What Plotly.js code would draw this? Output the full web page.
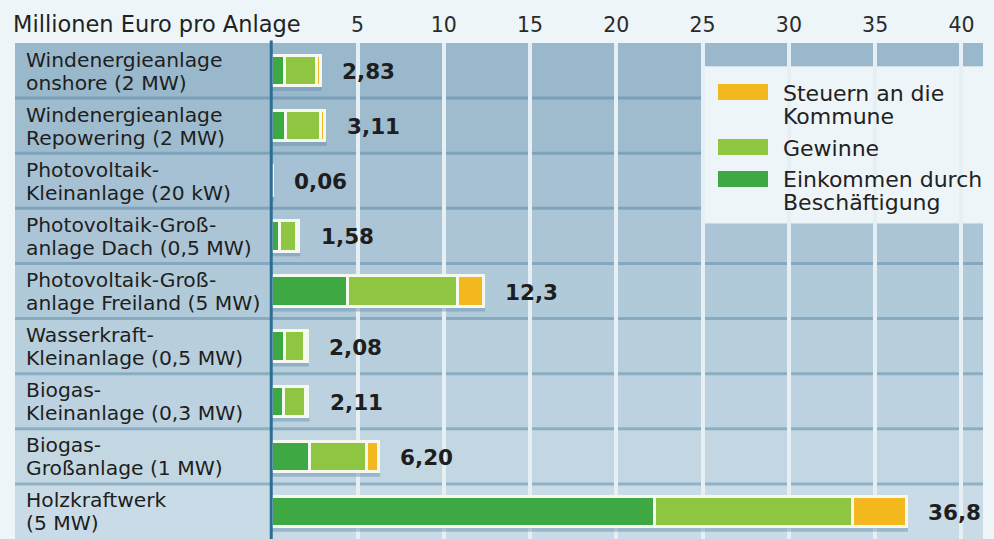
<!DOCTYPE html>
<html>
<head>
<meta charset="utf-8">
<script src="https://cdn.plot.ly/plotly-3.0.1.min.js"></script>
<style>
html,body{margin:0;padding:0;background:#eef5f8;}
#chart{width:994px;height:539px;}
</style>
</head>
<body>
<div id="chart"></div>
<script>
// ---- data ----
var categories = [
  "Windenergieanlage<br>onshore (2 MW)",
  "Windenergieanlage<br>Repowering (2 MW)",
  "Photovoltaik-<br>Kleinanlage (20 kW)",
  "Photovoltaik-Groß-<br>anlage Dach (0,5 MW)",
  "Photovoltaik-Groß-<br>anlage Freiland (5 MW)",
  "Wasserkraft-<br>Kleinanlage (0,5 MW)",
  "Biogas-<br>Kleinanlage (0,3 MW)",
  "Biogas-<br>Großanlage (1 MW)",
  "Holzkraftwerk<br>(5 MW)"
];
var einkommen = [0.75, 0.85, 0.02, 0.45, 4.4, 0.75, 0.70, 2.2, 22.2];
var gewinne   = [1.85, 2.00, 0.03, 1.00, 6.4, 1.20, 1.30, 3.3, 11.5];
var steuern   = [0.23, 0.26, 0.01, 0.13, 1.5, 0.13, 0.11, 0.7, 3.1];
var totals      = [2.83, 3.11, 0.06, 1.58, 12.3, 2.08, 2.11, 6.20, 36.8];
var totalLabels = ["2,83", "3,11", "0,06", "1,58", "12,3", "2,08", "2,11", "6,20", "36,8"];
var tickValues = [5, 10, 15, 20, 25, 30, 35, 40];
var axisTitle = "Millionen Euro pro Anlage";
var legendLabels = {
  steuern: ["Steuern an die", "Kommune"],
  gewinne: ["Gewinne"],
  einkommen: ["Einkommen durch", "Beschäftigung"]
};

// ---- style ----
var C_DARK = "#3ea843", C_LIGHT = "#8ec641", C_YELLOW = "#f3b81e";
var BG = "#eef5f8";
var FONT = "DejaVu Sans, Noto Sans, sans-serif";
var n = categories.length;
var rows = categories.map(function(_, i){ return i; });

function mix(a, b, t){
  function h(c){ return [parseInt(c.substr(1,2),16), parseInt(c.substr(3,2),16), parseInt(c.substr(5,2),16)]; }
  var A = h(a), B = h(b);
  return "rgb(" + A.map(function(v, k){ return Math.round(v + (B[k]-v)*t); }).join(",") + ")";
}

var barStyle = function(color){
  return {color: color, line: {color: "#f4f8ee", width: 3}};
};
var traces = [
  {type:"bar", orientation:"h", name:"Einkommen durch Beschäftigung", x: einkommen, y: rows, width: 0.55, marker: barStyle(C_DARK), hoverinfo:"x"},
  {type:"bar", orientation:"h", name:"Gewinne", x: gewinne, y: rows, width: 0.55, marker: barStyle(C_LIGHT), hoverinfo:"x"},
  {type:"bar", orientation:"h", name:"Steuern an die Kommune", x: steuern, y: rows, width: 0.55, marker: barStyle(C_YELLOW), hoverinfo:"x"}
];

var shapes = [];
var annotations = [];
// row backgrounds
rows.forEach(function(i){
  shapes.push({type:"rect", layer:"below", xref:"paper", x0:0, x1:1, yref:"y", y0:i-0.5, y1:i+0.5,
    fillcolor: mix("#99b8cc", "#c9dbe6", i/(n-1)), line:{width:0}});
});
// separators
rows.slice(0, n-1).forEach(function(i){
  shapes.push({type:"line", layer:"between", xref:"paper", x0:0, x1:1, yref:"y", y0:i+0.5, y1:i+0.5,
    line:{color: mix("#7aa0b9", "#93b4c8", i/(n-1)), width:3}});
});
// bar shadows
rows.forEach(function(i){
  shapes.push({type:"rect", layer:"between", xref:"x", x0:0, x1:totals[i]+0.1, yref:"y", y0:i+0.28, y1:i+0.37,
    fillcolor:"rgba(100,140,175,0.45)", line:{width:0}});
});
// legend box
shapes.push({type:"rect", layer:"between", xref:"x", x0:25.1, x1:45, yref:"paper", y0:0.637, y1:0.952,
  fillcolor: BG, line:{color:"#e2edf2", width:1}});
// zero line
shapes.push({type:"line", layer:"above", xref:"x", x0:0, x1:0, yref:"paper", y0:0, y1:1.005,
  line:{color:"#2c6e93", width:3}});

// legend swatches + text (pixel positions converted to paper)
var plotL = 15, plotW = 968, plotT = 43, plotH = 496;
function px(x){ return (x - plotL)/plotW; }
function py(y){ return 1 - (y - plotT)/plotH; }
var legendItems = [
  {color: C_YELLOW, top: 84, lines: legendLabels.steuern, baseline: 102},
  {color: C_LIGHT, top: 139, lines: legendLabels.gewinne, baseline: 156},
  {color: C_DARK, top: 171, lines: legendLabels.einkommen, baseline: 188}
];
legendItems.forEach(function(it){
  shapes.push({type:"rect", layer:"above", xref:"paper", yref:"paper", x0:px(718), x1:px(768), y0:py(it.top+16), y1:py(it.top),
    fillcolor: it.color, line:{width:0}});
  it.lines.forEach(function(t, k){
    annotations.push({xref:"paper", yref:"paper", x:px(781), y:py(it.baseline + k*22.5 - 8), xanchor:"left", yanchor:"middle",
      text:t, showarrow:false, font:{family:FONT, size:22, color:"#222"}});
  });
});

// row labels (two lines each, placed separately for tight line spacing)
rows.forEach(function(i){
  var parts = categories[i].split("<br>");
  parts.forEach(function(t, k){
    annotations.push({xref:"paper", yref:"y", x:px(24), y:i, xanchor:"left", yanchor:"middle", align:"left",
      yshift: k === 0 ? 11 : -12,
      text: t, showarrow:false, font:{family:FONT, size:20.3, color:"#1e1e1e"}});
  });
});
// value labels
rows.forEach(function(i){
  annotations.push({xref:"x", yref:"y", x:totals[i], y:i, xanchor:"left", yanchor:"middle", xshift:20, yshift:-1,
    text: totalLabels[i], showarrow:false, font:{family:"DejaVu Sans, sans-serif", size:21.5, color:"#1e1e1e", weight:"bold"}});
});
// axis title
annotations.push({xref:"paper", yref:"paper", x:px(11), y:py(24), xanchor:"left", yanchor:"middle",
  text: axisTitle, showarrow:false, font:{family:FONT, size:22.5, color:"#222"}});

var layout = {
  width: 994, height: 539,
  margin: {l: plotL, r: 994 - plotL - plotW, t: plotT, b: 0, pad: 0},
  paper_bgcolor: BG, plot_bgcolor: "rgba(0,0,0,0)",
  barmode: "stack", bargap: 0,
  showlegend: false,
  xaxis: {range: [-14.85, 41.25], side: "top", tickvals: tickValues, ticktext: tickValues.map(String),
    showgrid: true, gridcolor: "#e6eff4", gridwidth: 4, zeroline: false, showline: false, ticks: "",
    ticklabelstandoff: 6,
    tickfont: {family: FONT, size: 20.5, color: "#2a2a2a"}, fixedrange: true},
  yaxis: {range: [n - 0.5, -0.5], showticklabels: false, showgrid: false, zeroline: false, ticks: "", fixedrange: true},
  shapes: shapes,
  annotations: annotations
};

Plotly.newPlot("chart", traces, layout, {displayModeBar: false, staticPlot: true});
</script>
</body>
</html>
